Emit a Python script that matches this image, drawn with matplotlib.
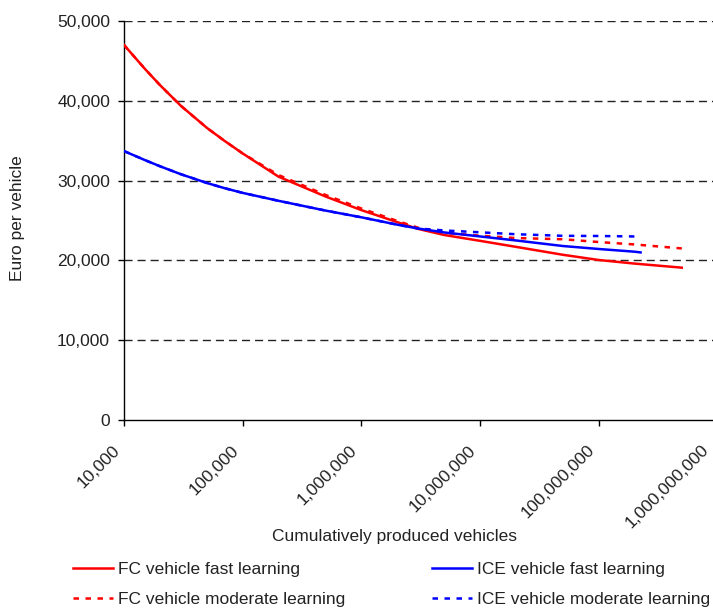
import matplotlib
matplotlib.use("Agg")
import matplotlib.pyplot as plt
from matplotlib.ticker import FuncFormatter, FixedLocator
from matplotlib.transforms import ScaledTranslation

plt.rcParams['font.family'] = ['Liberation Sans', 'DejaVu Sans']

# Data
x_fc = [1e4, 1.5e4, 2e4, 3e4, 5e4, 7e4, 1e5, 2e5, 5e5, 1e6, 2e6, 3e6, 5e6, 1e7, 2e7, 5e7, 1e8, 2e8, 5e8]
fc_fast = [47000, 44000, 42000, 39400, 36600, 35000, 33400, 30500, 28000, 26300, 24800, 23950,
           23180, 22450, 21700, 20700, 20050, 19600, 19090]
fc_moderate = [47000, 44000, 42000, 39400, 36600, 35000, 33400, 30700, 28200, 26500, 24950, 24100,
               23450, 23100, 22800, 22650, 22300, 22000, 21500]

x_ice = [1e4, 1.5e4, 2e4, 3e4, 5e4, 7e4, 1e5, 2e5, 5e5, 1e6, 2e6, 3e6, 5e6, 1e7, 2e7, 5e7, 1e8, 2e8, 2.25e8]
ice_fast = [33700, 32570, 31810, 30810, 29700, 29060, 28460, 27470, 26240, 25400, 24480, 24000,
            23500, 23000, 22500, 21800, 21430, 21090, 21000]
ice_moderate = [33700, 32570, 31810, 30810, 29700, 29060, 28460, 27470, 26240, 25400, 24480, 24000,
                23750, 23520, 23280, 23080, 23060, 23000, 22800]

x_ticks = [1e4, 1e5, 1e6, 1e7, 1e8, 1e9]
y_ticks = [0, 10000, 20000, 30000, 40000, 50000]

labels = ["FC vehicle fast learning", "FC vehicle moderate learning",
          "ICE vehicle fast learning", "ICE vehicle moderate learning"]

FS = 12.5
TXT = "#222222"

fig = plt.figure(figsize=(7.13, 6.08), dpi=100)
ax = fig.add_axes([124 / 713, 1 - 420 / 608, (717.5 - 124) / 713, (420 - 21) / 608])

RED = "#ff0000"
BLUE = "#0000ff"
lw = 1.8
dash = (0, (2.2, 2.6))

l1, = ax.plot(x_fc, fc_fast, color=RED, lw=lw, zorder=3)
l2, = ax.plot(x_fc, fc_moderate, color=RED, lw=lw, linestyle=dash, zorder=3)
l3, = ax.plot(x_ice, ice_fast, color=BLUE, lw=lw, zorder=3)
l4, = ax.plot(x_ice, ice_moderate, color=BLUE, lw=lw, linestyle=dash, zorder=3)

ax.set_xscale('log')
ax.set_xlim(1e4, 1e9)
ax.set_ylim(0, 50000)
ax.xaxis.set_major_locator(FixedLocator(x_ticks))
ax.xaxis.set_minor_locator(FixedLocator([]))
ax.set_yticks(y_ticks)
fmt = FuncFormatter(lambda v, p: f"{int(round(v)):,}")
ax.xaxis.set_major_formatter(fmt)
ax.yaxis.set_major_formatter(fmt)

for yv in y_ticks[1:]:
    ax.axhline(yv, color=TXT, lw=1.0, linestyle=(0, (5.8, 3.6)), zorder=1)

for s in ['top', 'right']:
    ax.spines[s].set_visible(False)
for s in ['left', 'bottom']:
    ax.spines[s].set_linewidth(1.0)
    ax.spines[s].set_color('black')

ax.tick_params(axis='y', length=4, width=1, pad=6, labelsize=FS, labelcolor=TXT)
ax.tick_params(axis='x', length=4.5, width=1, pad=8, labelsize=FS, labelcolor=TXT)
xlabels = ax.get_xticklabels()
for i, lab in enumerate(xlabels):
    dx = -12 if i < len(xlabels) - 1 else -17
    offset = ScaledTranslation(dx / 100, -5 / 100, fig.dpi_scale_trans)
    lab.set_rotation(45)
    lab.set_ha('right')
    lab.set_va('top')
    lab.set_rotation_mode('anchor')
    lab.set_transform(lab.get_transform() + offset)

fig.text(18 / 713, 1 - 218 / 608, "Euro per vehicle", rotation=90, ha='center', va='center',
         fontsize=FS, color=TXT)
fig.text(394 / 713, 1 - 537 / 608, "Cumulatively produced vehicles", ha='center', va='center',
         fontsize=FS, color=TXT)

fig.legend([l1, l2, l3, l4], labels, ncol=2, loc='upper left',
           bbox_to_anchor=(73 / 713, 1 - 562 / 608), frameon=False, fontsize=FS,
           handlelength=2.3, handletextpad=0.3, columnspacing=5.0, labelspacing=0.85,
           borderpad=0, borderaxespad=0, labelcolor=TXT)

fig.savefig("out.png", dpi=100)
